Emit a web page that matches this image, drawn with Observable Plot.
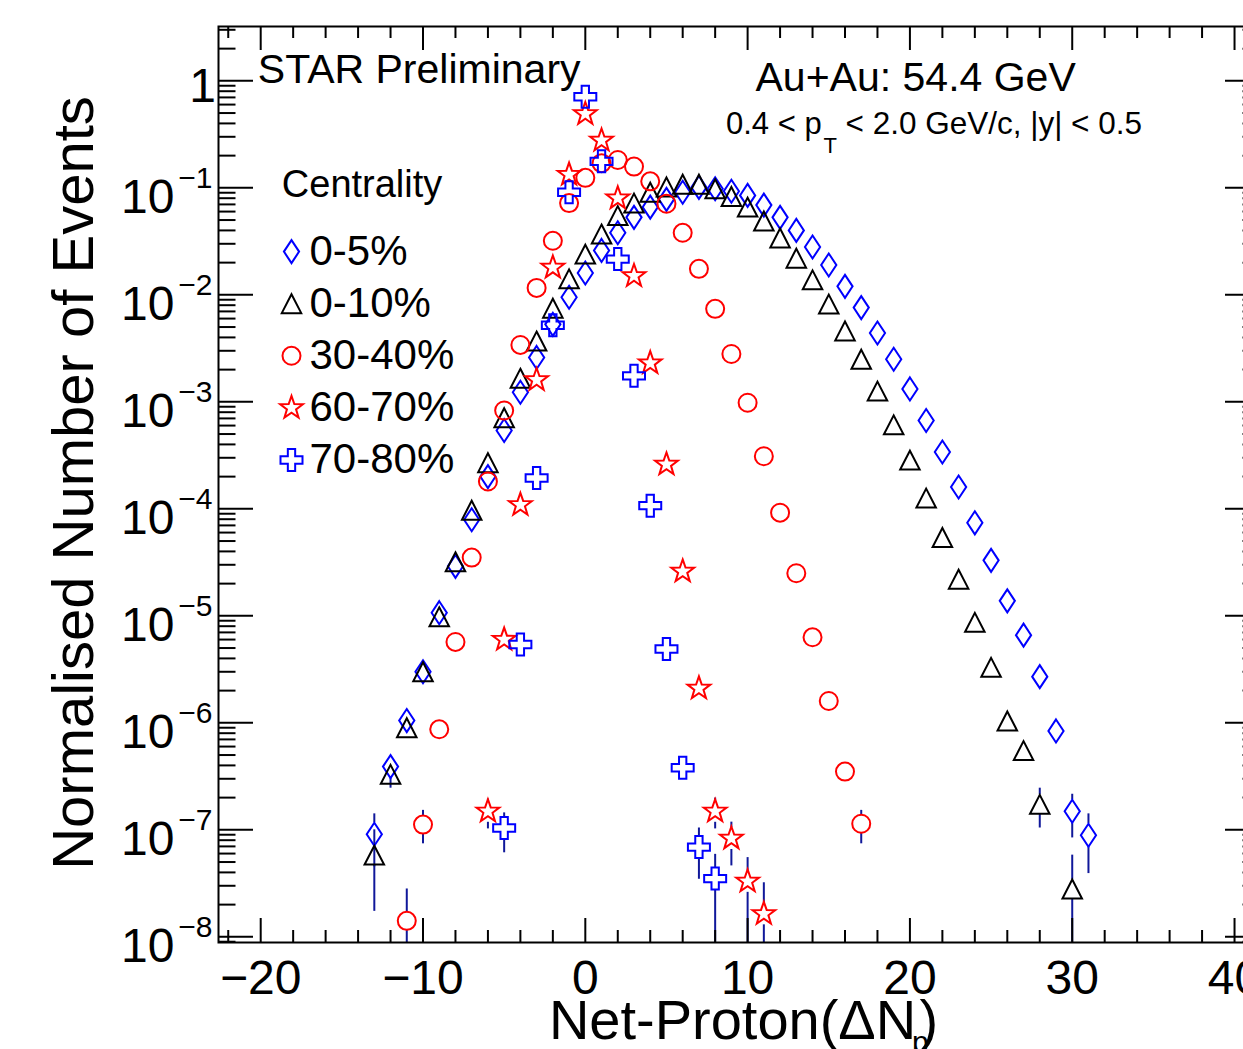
<!DOCTYPE html>
<html>
<head>
<meta charset="utf-8">
<script src="https://cdn.jsdelivr.net/npm/d3@7"></script>
<script src="https://cdn.jsdelivr.net/npm/@observablehq/plot@0.6"></script>
<style>
  html, body { margin: 0; padding: 0; overflow: hidden; background: #ffffff; }
  #chart svg { display: block; max-width: none !important; }
</style>
</head>
<body>
<div id="chart"></div>
<script>
// ---------------- data ----------------
const centralityLabels = ["0-5%", "0-10%", "30-40%", "60-70%", "70-80%"];

const netP_0_5 = [-13,-12,-11,-10,-9,-8,-7,-6,-5,-4,-3,-2,-1,0,1,2,3,4,5,6,7,8,9,10,11,12,13,14,15,16,17,18,19,20,21,22,23,24,25,26,27,28,29,30,31];
const events_0_5 = [9.1e-8,3.9e-7,1.05e-6,3.0e-6,1.07e-5,2.9e-5,7.9e-5,2.0e-4,5.4e-4,1.23e-3,2.6e-3,5.3e-3,9.5e-3,1.6e-2,2.6e-2,3.8e-2,5.3e-2,0.066,0.078,0.091,0.101,0.098,0.093,0.085,0.069,0.053,0.040,0.028,0.019,0.012,7.6e-3,4.4e-3,2.5e-3,1.32e-3,6.7e-4,3.4e-4,1.6e-4,7.4e-5,3.3e-5,1.38e-5,6.6e-6,2.7e-6,8.4e-7,1.49e-7,8.9e-8];

const netP_0_10 = [-13,-12,-11,-10,-9,-8,-7,-6,-5,-4,-3,-2,-1,0,1,2,3,4,5,6,7,8,9,10,11,12,13,14,15,16,17,18,19,20,21,22,23,24,25,26,27,28,30];
const events_0_10 = [5.8e-8,3.3e-7,9.0e-7,3.0e-6,9.8e-6,3.2e-5,9.7e-5,2.7e-4,7.1e-4,1.66e-3,3.7e-3,7.5e-3,1.41e-2,2.4e-2,3.7e-2,5.5e-2,0.072,0.091,0.102,0.108,0.108,0.098,0.083,0.066,0.049,0.034,0.022,0.0138,8.2e-3,4.6e-3,2.5e-3,1.26e-3,6.1e-4,2.85e-4,1.26e-4,5.4e-5,2.2e-5,8.7e-6,3.3e-6,1.04e-6,5.5e-7,1.73e-7,2.8e-8];

const netP_30_40 = [-11,-10,-9,-8,-7,-6,-5,-4,-3,-2,-1,0,1,2,3,4,5,6,7,8,9,10,11,12,13,14,15,16,17];
const events_30_40 = [1.41e-8,1.12e-7,8.7e-7,5.7e-6,3.5e-5,1.8e-4,8.3e-4,3.4e-3,1.16e-2,3.2e-2,0.072,0.124,0.17,0.182,0.158,0.115,0.071,0.038,0.0175,7.4e-3,2.8e-3,9.8e-4,3.1e-4,9.2e-5,2.5e-5,6.3e-6,1.6e-6,3.5e-7,1.14e-7];

const netP_60_70 = [-6,-5,-4,-3,-2,-1,0,1,2,3,4,5,6,7,8,9,10,11];
const events_60_70 = [1.49e-7,6.0e-6,1.09e-4,1.6e-3,1.8e-2,0.133,0.49,0.277,0.080,1.5e-2,2.3e-3,2.6e-4,2.6e-5,2.1e-6,1.49e-7,8.3e-8,3.3e-8,1.64e-8];

const netP_70_80 = [-5,-4,-3,-2,-1,0,1,2,3,4,5,6,7,8];
const events_70_80 = [1.04e-7,5.4e-6,1.94e-4,5.2e-3,0.091,0.71,0.177,0.0216,1.75e-3,1.07e-4,4.9e-6,3.8e-7,6.9e-8,3.5e-8];

// visible error bars: x, lower end, upper end
const errX_0_5 = [-13, -12, 30, 31];
const errLo_0_5 = [4.5e-8, 2.45e-7, 8.4e-8, 3.9e-8];
const errHi_0_5 = [1.41e-7, 4.2e-7, 2.15e-7, 1.41e-7];

const errX_0_10 = [-13, 28, 30];
const errLo_0_10 = [1.73e-8, 1.04e-7, 1e-9];
const errHi_0_10 = [1.0e-7, 2.45e-7, 5.8e-8];

const errX_30_40 = [-11, -10, 17];
const errLo_30_40 = [1e-9, 7.4e-8, 7.4e-8];
const errHi_30_40 = [2.8e-8, 1.52e-7, 1.52e-7];

const errX_60_70 = [-6, 8, 9, 10, 11];
const errLo_60_70 = [1.02e-7, 1.02e-7, 4.6e-8, 1e-9, 1e-9];
const errHi_60_70 = [1.94e-7, 1.98e-7, 1.18e-7, 5.5e-8, 3.2e-8];

const errX_70_80 = [-5, 7, 8];
const errLo_70_80 = [6.1e-8, 3.45e-8, 1e-9];
const errHi_70_80 = [1.44e-7, 1.04e-7, 5.9e-8];

const xTickLabels = [-20, -10, 0, 10, 20, 30, 40];
const yTickExponents = [-8, -7, -6, -5, -4, -3, -2, -1, 0];

// ---------------- layout / style ----------------
const FONT = "'Liberation Sans', Arial, Helvetica, sans-serif";
const W = 1262, H = 1049;
const mL = 218, mR = 2, mT = 26, mB = 107;
const FW = W - mL - mR, FH = H - mT - mB;
const xDomain = [-22.6, 41.6];
const yDomain = [8.85e-9, 3.22];
const ppd = FH / (Math.log10(yDomain[1]) - Math.log10(yDomain[0]));
const ERR = "#10189a";

// ROOT-like marker shapes
const symDiamond = {draw(c, s) { const r = Math.sqrt(s / Math.PI), w = r * 0.66;
  c.moveTo(0, -r); c.lineTo(w, 0); c.lineTo(0, r); c.lineTo(-w, 0); c.closePath(); }};
const symTriangle = {draw(c, s) { const r = Math.sqrt(s / Math.PI), h = r * 0.97;
  c.moveTo(0, -h); c.lineTo(r, h); c.lineTo(-r, h); c.closePath(); }};
const symCircle = {draw(c, s) { const r = Math.sqrt(s / Math.PI);
  c.moveTo(r, 0); c.arc(0, 0, r, 0, 2 * Math.PI); c.closePath(); }};
const symStar = {draw(c, s) { const R = Math.sqrt(s / Math.PI), ri = R * 0.4;
  for (let k = 0; k < 10; k++) { const a = -Math.PI / 2 + k * Math.PI / 5, rr = k % 2 ? ri : R;
    const px = rr * Math.cos(a), py = rr * Math.sin(a); if (k) c.lineTo(px, py); else c.moveTo(px, py); }
  c.closePath(); }};
const symCross = {draw(c, s) { const r = Math.sqrt(s / Math.PI), a = r / 3;
  c.moveTo(-a, -r); c.lineTo(a, -r); c.lineTo(a, -a); c.lineTo(r, -a); c.lineTo(r, a); c.lineTo(a, a);
  c.lineTo(a, r); c.lineTo(-a, r); c.lineTo(-a, a); c.lineTo(-r, a); c.lineTo(-r, -a); c.lineTo(-a, -a); c.closePath(); }};

const styles = [
  {symbol: symDiamond, r: 11.5, color: "#0000ff", gap: 11.5},
  {symbol: symTriangle, r: 9.75, color: "#000000", gap: 9.5},
  {symbol: symCircle, r: 9, color: "#ff0000", gap: 9},
  {symbol: symStar, r: 12, color: "#ff0000", gap: 11},
  {symbol: symCross, r: 11, color: "#0000ff", gap: 11}
];

const seriesData = [
  {xs: netP_0_5, ys: events_0_5, ex: errX_0_5, lo: errLo_0_5, hi: errHi_0_5},
  {xs: netP_0_10, ys: events_0_10, ex: errX_0_10, lo: errLo_0_10, hi: errHi_0_10},
  {xs: netP_30_40, ys: events_30_40, ex: errX_30_40, lo: errLo_30_40, hi: errHi_30_40},
  {xs: netP_60_70, ys: events_60_70, ex: errX_60_70, lo: errLo_60_70, hi: errHi_60_70},
  {xs: netP_70_80, ys: events_70_80, ex: errX_70_80, lo: errLo_70_80, hi: errHi_70_80}
];

const marks = [];

// error bars (with a gap at the marker, like ROOT)
seriesData.forEach((s, i) => {
  const st = styles[i];
  const f = Math.pow(10, st.gap / ppd);
  const rows = s.ex.map((x, k) => ({x, v: s.ys[s.xs.indexOf(x)], lo: s.lo[k], hi: s.hi[k]}));
  const upper = rows.filter(d => d.hi > d.v * f).map(d => ({x: d.x, a: d.v * f, b: d.hi}));
  const lower = rows.filter(d => d.lo < d.v / f).map(d => ({x: d.x, a: d.lo, b: d.v / f}));
  marks.push(Plot.ruleX(upper.concat(lower), {x: "x", y1: "a", y2: "b", stroke: ERR, strokeWidth: 2, clip: true}));
});

// data markers
seriesData.forEach((s, i) => {
  const st = styles[i];
  const rows = s.xs.map((x, k) => ({x, y: s.ys[k]}));
  marks.push(Plot.dot(rows, {x: "x", y: "y", symbol: st.symbol, r: st.r, stroke: st.color, fill: "none", strokeWidth: 2}));
});

// ticks inside the frame on all four sides
const xMajor = xTickLabels;
const xMinor = d3.range(-22, 41, 2).filter(v => v % 10 !== 0);
const yMajor = yTickExponents.map(e => Math.pow(10, e));
const yMinor = [];
for (let e = -9; e <= 0; e++) for (let m = 2; m <= 9; m++) {
  const v = m * Math.pow(10, e); if (v > yDomain[0] && v < yDomain[1]) yMinor.push(v);
}
const tk = {stroke: "black", strokeWidth: 2};
marks.push(
  Plot.ruleX(xMajor, {x: d => d, insetTop: FH - 24, ...tk}),
  Plot.ruleX(xMajor, {x: d => d, insetBottom: FH - 24, ...tk}),
  Plot.ruleX(xMinor, {x: d => d, insetTop: FH - 12, ...tk}),
  Plot.ruleX(xMinor, {x: d => d, insetBottom: FH - 12, ...tk}),
  Plot.ruleY(yMajor, {y: d => d, insetRight: FW - 35, ...tk}),
  Plot.ruleY(yMajor, {y: d => d, insetLeft: FW - 35, ...tk}),
  Plot.ruleY(yMinor, {y: d => d, insetRight: FW - 17.5, ...tk}),
  Plot.ruleY(yMinor, {y: d => d, insetLeft: FW - 17.5, ...tk}),
  Plot.frame({stroke: "black", strokeWidth: 2})
);

// tick labels
marks.push(
  Plot.text(xTickLabels, {x: d => d, frameAnchor: "bottom", dy: 51, lineAnchor: "bottom", textAnchor: "middle",
    text: d => d < 0 ? "\u2212" + (-d) : String(d), fontSize: 48}),
  Plot.text(yTickExponents.filter(e => e < 0), {y: e => Math.pow(10, e), frameAnchor: "left", textAnchor: "end",
    lineAnchor: "bottom", dx: -44, dy: 25, text: () => "10", fontSize: 48}),
  Plot.text(yTickExponents.filter(e => e < 0), {y: e => Math.pow(10, e), frameAnchor: "left", textAnchor: "end",
    lineAnchor: "bottom", dx: -6, dy: 0, text: e => "\u2212" + (-e), fontSize: 30}),
  Plot.text(yTickExponents.filter(e => e === 0), {y: e => Math.pow(10, e), frameAnchor: "left", textAnchor: "end",
    lineAnchor: "bottom", dx: -2.5, dy: 21, text: () => "1", fontSize: 48})
);

// axis titles
marks.push(
  Plot.text(["Normalised Number of Events"], {text: d => d, frameAnchor: "left", rotate: -90, textAnchor: "middle",
    lineAnchor: "bottom", dx: -126, dy: -1.5, fontSize: 58}),
  Plot.text(["Net-Proton(\u0394N"], {text: d => d, frameAnchor: "bottom", textAnchor: "end", lineAnchor: "bottom",
    dx: 176.7, dy: 96, fontSize: 56}),
  Plot.text(["p"], {text: d => d, frameAnchor: "bottom", textAnchor: "start", lineAnchor: "bottom",
    dx: 172.5, dy: 109, fontSize: 30}),
  Plot.text([")"], {text: d => d, frameAnchor: "bottom", textAnchor: "start", lineAnchor: "bottom",
    dx: 180, dy: 96, fontSize: 56})
);

// annotations
marks.push(
  Plot.text(["STAR Preliminary"], {text: d => d, frameAnchor: "top-left", textAnchor: "start", lineAnchor: "bottom",
    dx: 39.3, dy: 56.7, fontSize: 41}),
  Plot.text(["Au+Au: 54.4 GeV"], {text: d => d, frameAnchor: "top-left", textAnchor: "start", lineAnchor: "bottom",
    dx: 537, dy: 64, fontSize: 41}),
  Plot.text(["0.4 < p"], {text: d => d, frameAnchor: "top-left", textAnchor: "start", lineAnchor: "bottom",
    dx: 507.5, dy: 107.3, fontSize: 31}),
  Plot.text(["T"], {text: d => d, frameAnchor: "top-left", textAnchor: "start", lineAnchor: "bottom",
    dx: 605, dy: 126, fontSize: 22}),
  Plot.text(["< 2.0 GeV/c, |y| < 0.5"], {text: d => d, frameAnchor: "top-left", textAnchor: "start", lineAnchor: "bottom",
    dx: 627, dy: 107.3, fontSize: 31.5}),
  Plot.text(["Centrality"], {text: d => d, frameAnchor: "top-left", textAnchor: "start", lineAnchor: "bottom",
    dx: 63.3, dy: 170, fontSize: 38})
);

// legend
centralityLabels.forEach((lab, i) => {
  const st = styles[i];
  marks.push(
    Plot.dot([lab], {frameAnchor: "top-left", dx: 73, dy: 225.1 + 52.1 * i, symbol: st.symbol, r: st.r,
      stroke: st.color, fill: "none", strokeWidth: 2}),
    Plot.text([lab], {text: d => d, frameAnchor: "top-left", textAnchor: "start", lineAnchor: "bottom",
      dx: 91, dy: 238 + 52.1 * i, fontSize: 42})
  );
});

const chart = Plot.plot({
  width: W, height: H,
  marginLeft: mL, marginRight: mR, marginTop: mT, marginBottom: mB,
  x: {domain: xDomain, axis: null},
  y: {type: "log", domain: yDomain, axis: null},
  style: {fontFamily: FONT, background: "white", color: "black", overflow: "visible", maxWidth: "none"},
  marks
});
chart.style.maxWidth = "none";
document.getElementById("chart").appendChild(chart);
</script>
</body>
</html>
